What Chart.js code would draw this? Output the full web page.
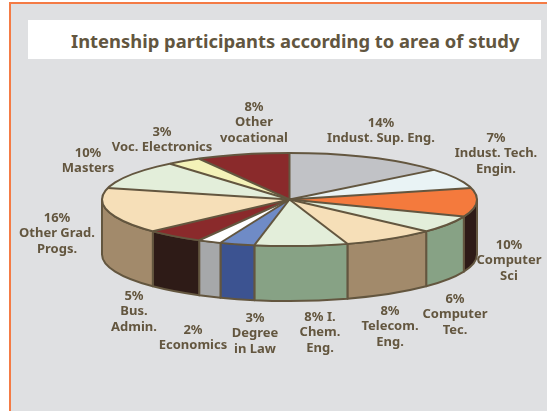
<!DOCTYPE html>
<html>
<head>
<meta charset="utf-8">
<title>Intenship participants</title>
<script src="https://cdn.jsdelivr.net/npm/chart.js@4"></script>
<style>
    html, body { margin: 0; padding: 0; background: #fff; width: 547px; height: 411px; overflow: hidden; }
    .panel {
        position: absolute; left: 9px; top: 2px; width: 536px; height: 407px;
        background: #dfe0e2;
        border-left: 2px solid #f47b45; border-top: 2px solid #f47b45;
    }
    .heading {
        position: absolute; left: 28px; top: 20px; width: 513px; height: 39px; line-height: 41px;
        background: #fff; color: #62563f;
        font: bold 18.4px "Noto Sans", sans-serif; white-space: nowrap;
        text-indent: 43px;
    }
    canvas { position: absolute; left: 0; top: 0; }
</style>
</head>
<body>
<div class="panel"></div>
<div class="heading" style="line-height:41px">Intenship participants according to area of study</div>
<canvas id="pie" width="547" height="411"></canvas>
<script>
const categories = [
    'Indust. Sup. Eng.', 'Indust. Tech. Engin.', 'Computer Sci', 'Computer Tec.',
    'Telecom. Eng.', 'I. Chem. Eng.', 'Degree in Law', 'Economics', 'Bus. Admin.',
    'Other Grad. Progs.', 'Masters', 'Voc. Electronics', 'Other vocational'
];
const values = [14, 7, 10, 6, 8, 8, 3, 2, 5, 16, 10, 3, 8];

const labelLines = [
    ['14%', 'Indust. Sup. Eng.'], ['7%', 'Indust. Tech.', 'Engin.'], ['10%', 'Computer', 'Sci'],
    ['6%', 'Computer', 'Tec.'], ['8%', 'Telecom.', 'Eng.'], ['8% I.', 'Chem.', 'Eng.'],
    ['3%', 'Degree', 'in Law'], ['2%', 'Economics'], ['5%', 'Bus.', 'Admin.'],
    ['16%', 'Other Grad.', 'Progs.'], ['10%', 'Masters'], ['3%', 'Voc. Electronics'],
    ['8%', 'Other', 'vocational']
];

const topColors = [
    '#c1c2c6', '#e9f3f5', '#f47a3d', '#e3eeda', '#f6dfb8', '#e3eeda', '#6f8bc6',
    '#ffffff', '#8a2a2b', '#f6dfb8', '#e3eeda', '#f4f2b8', '#8a2a2b'
];
const sideColors = [
    '#8e8f93', '#a9b4b6', '#2e1b17', '#87a285', '#a28a6b', '#87a285', '#3c5391',
    '#a6a8aa', '#2e1b17', '#a28a6b', '#87a285', '#b5b384', '#5e1c1d'
];

// centre x and first line y of every label block
const labelSpots = [
    [381, 123], [496, 138], [509, 245], [455, 299], [390, 311], [320, 317],
    [255, 318], [193, 330], [134, 296], [57, 218], [88, 153], [162, 132], [254, 107]
];

const OUTLINE = '#63563f';
const TILT = 0.248;   // height / width of the top ellipse
const DEPTH = 55;

function firstArc(chart) {
    return chart.getDatasetMeta(0).data[0];
}

const tiltedPie = {
    id: 'tiltedPie',
    // side walls go under the top face, only the front half shows
    beforeDatasetsDraw(chart) {
        const ctx = chart.ctx;
        const arcs = chart.getDatasetMeta(0).data;
        ctx.save();
        ctx.lineWidth = 2;
        ctx.lineJoin = 'round';
        ctx.strokeStyle = OUTLINE;
        arcs.forEach((arc, i) => {
            const start = Math.max(arc.startAngle, 0);
            const end = Math.min(arc.endAngle, Math.PI);
            if (start >= end) return;
            const rx = arc.outerRadius, ry = rx * TILT;
            ctx.beginPath();
            ctx.ellipse(arc.x, arc.y, rx, ry, 0, start, end);
            ctx.ellipse(arc.x, arc.y + DEPTH, rx, ry, 0, end, start, true);
            ctx.closePath();
            ctx.fillStyle = sideColors[i];
            ctx.fill();
            ctx.stroke();
        });
        ctx.restore();
    },
    beforeDatasetDraw(chart) {
        const ctx = chart.ctx;
        const arc = firstArc(chart);
        ctx.save();
        ctx.translate(arc.x, arc.y);
        ctx.scale(1, TILT);
        ctx.translate(-arc.x, -arc.y);
    },
    afterDatasetDraw(chart) {
        chart.ctx.restore();
    },
    // outlines are stroked unscaled so the pen stays even all around
    afterDatasetsDraw(chart) {
        const ctx = chart.ctx;
        const arcs = chart.getDatasetMeta(0).data;
        ctx.save();
        ctx.lineWidth = 2;
        ctx.lineJoin = 'round';
        ctx.strokeStyle = OUTLINE;
        arcs.forEach(arc => {
            const rx = arc.outerRadius, ry = rx * TILT;
            ctx.beginPath();
            ctx.moveTo(arc.x, arc.y);
            ctx.lineTo(arc.x + rx * Math.cos(arc.startAngle), arc.y + ry * Math.sin(arc.startAngle));
            ctx.stroke();
        });
        const arc = firstArc(chart);
        ctx.beginPath();
        ctx.ellipse(arc.x, arc.y, arc.outerRadius, arc.outerRadius * TILT, 0, 0, Math.PI * 2);
        ctx.stroke();

        // slice labels
        ctx.fillStyle = OUTLINE;
        ctx.font = 'bold 13px "Noto Sans", sans-serif';
        ctx.textAlign = 'center';
        ctx.textBaseline = 'middle';
        labelLines.forEach((lines, i) => {
            lines.forEach((line, n) => {
                ctx.fillText(line, labelSpots[i][0], labelSpots[i][1] + n * 15.5);
            });
        });
        ctx.restore();
    }
};

new Chart(document.getElementById('pie'), {
    type: 'pie',
    data: {
        labels: categories,
        datasets: [{
            data: values,
            backgroundColor: topColors,
            borderWidth: 0,
            clip: false
        }]
    },
    options: {
        responsive: false,
        animation: false,
        layout: { padding: { left: 102, right: 70, top: 12, bottom: 24 } },
        plugins: { legend: { display: false }, tooltip: { enabled: false } }
    },
    plugins: [tiltedPie]
});
</script>
</body>
</html>
